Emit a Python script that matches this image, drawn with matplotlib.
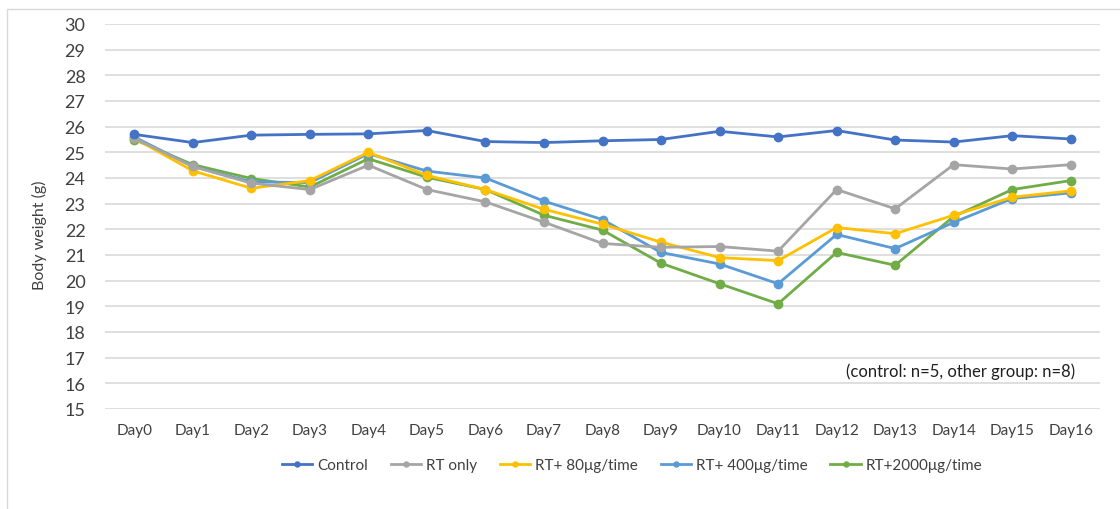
import numpy as np
import matplotlib.pyplot as plt
from matplotlib.patches import Rectangle

# data
days = ['Day0', 'Day1', 'Day2', 'Day3', 'Day4', 'Day5', 'Day6', 'Day7', 'Day8',
        'Day9', 'Day10', 'Day11', 'Day12', 'Day13', 'Day14', 'Day15', 'Day16']
control = [25.70, 25.38, 25.67, 25.70, 25.72, 25.85, 25.42, 25.38, 25.45,
           25.50, 25.82, 25.60, 25.85, 25.48, 25.40, 25.65, 25.52]
rt_only = [25.55, 24.45, 23.80, 23.55, 24.50, 23.55, 23.07, 22.28, 21.45,
           21.30, 21.33, 21.15, 23.55, 22.80, 24.52, 24.35, 24.52]
rt_80 = [25.55, 24.28, 23.60, 23.90, 25.00, 24.10, 23.55, 22.78, 22.20,
         21.50, 20.90, 20.78, 22.07, 21.83, 22.55, 23.25, 23.50]
rt_400 = [25.60, 24.45, 23.85, 23.82, 24.95, 24.27, 24.00, 23.10, 22.38,
          21.10, 20.65, 19.88, 21.80, 21.25, 22.27, 23.20, 23.42]
rt_2000 = [25.50, 24.52, 23.98, 23.65, 24.75, 24.03, 23.55, 22.55, 21.97,
           20.68, 19.88, 19.10, 21.10, 20.60, 22.50, 23.55, 23.90]

series = [
    ('Control', control, '#4472C4'),
    ('RT only', rt_only, '#A5A5A5'),
    ('RT+ 80\u03bcg/time', rt_80, '#FFC000'),
    ('RT+ 400\u03bcg/time', rt_400, '#5B9BD5'),
    ('RT+2000\u03bcg/time', rt_2000, '#70AD47'),
]

plt.rcParams['font.family'] = ['Lato', 'DejaVu Sans']

fig = plt.figure(figsize=(11.2, 5.1), dpi=100)
ax = fig.add_axes([105 / 1120, 1 - 410 / 510, 995 / 1120, 385 / 510])

x = np.arange(len(days))
# draw back to front so Control ends on top like the original
for name, vals, color in series[::-1]:
    ax.plot(x, vals, color=color, lw=2, marker='o', ms=6, label=name, zorder=3)

ax.set_xlim(-0.5, len(days) - 0.5)
ax.set_ylim(15, 30)
ax.set_yticks(range(15, 31))
ax.set_xticks(x)
ax.set_xticklabels(days, fontsize=11, color='#404040')
ax.tick_params(axis='y', labelsize=13, colors='#404040', length=0, pad=14)
ax.tick_params(axis='x', length=0, pad=10)
ax.grid(axis='y', color='#D9D9D9', lw=1.2)
ax.set_axisbelow(True)
for s in ax.spines.values():
    s.set_visible(False)

ax.set_ylabel('Body weight (g)', fontsize=11.5, color='#404040', labelpad=10)
ax.yaxis.set_label_coords(-0.058, 0.455)

ax.text(0.86, 0.1, '(control: n=5, other group: n=8)', transform=ax.transAxes,
        ha='center', va='center', fontsize=12, color='#202020')

handles, labels = ax.get_legend_handles_labels()
leg = fig.legend(handles[::-1], labels[::-1], loc='center', bbox_to_anchor=(632 / 1120, 1 - 466 / 510),
                 ncol=5, frameon=False, fontsize=11, handlelength=2.0, markerscale=0.6,
                 columnspacing=1.5, handletextpad=0.3)
for t in leg.get_texts():
    t.set_color('#404040')

# outer chart frame
fig.patches.append(Rectangle((7 / 1120, -0.1), 1.2, 1 - 10 / 510 + 0.1, transform=fig.transFigure,
                             fill=False, edgecolor='#D9D9D9', lw=1))

fig.savefig('out.png', dpi=100)
